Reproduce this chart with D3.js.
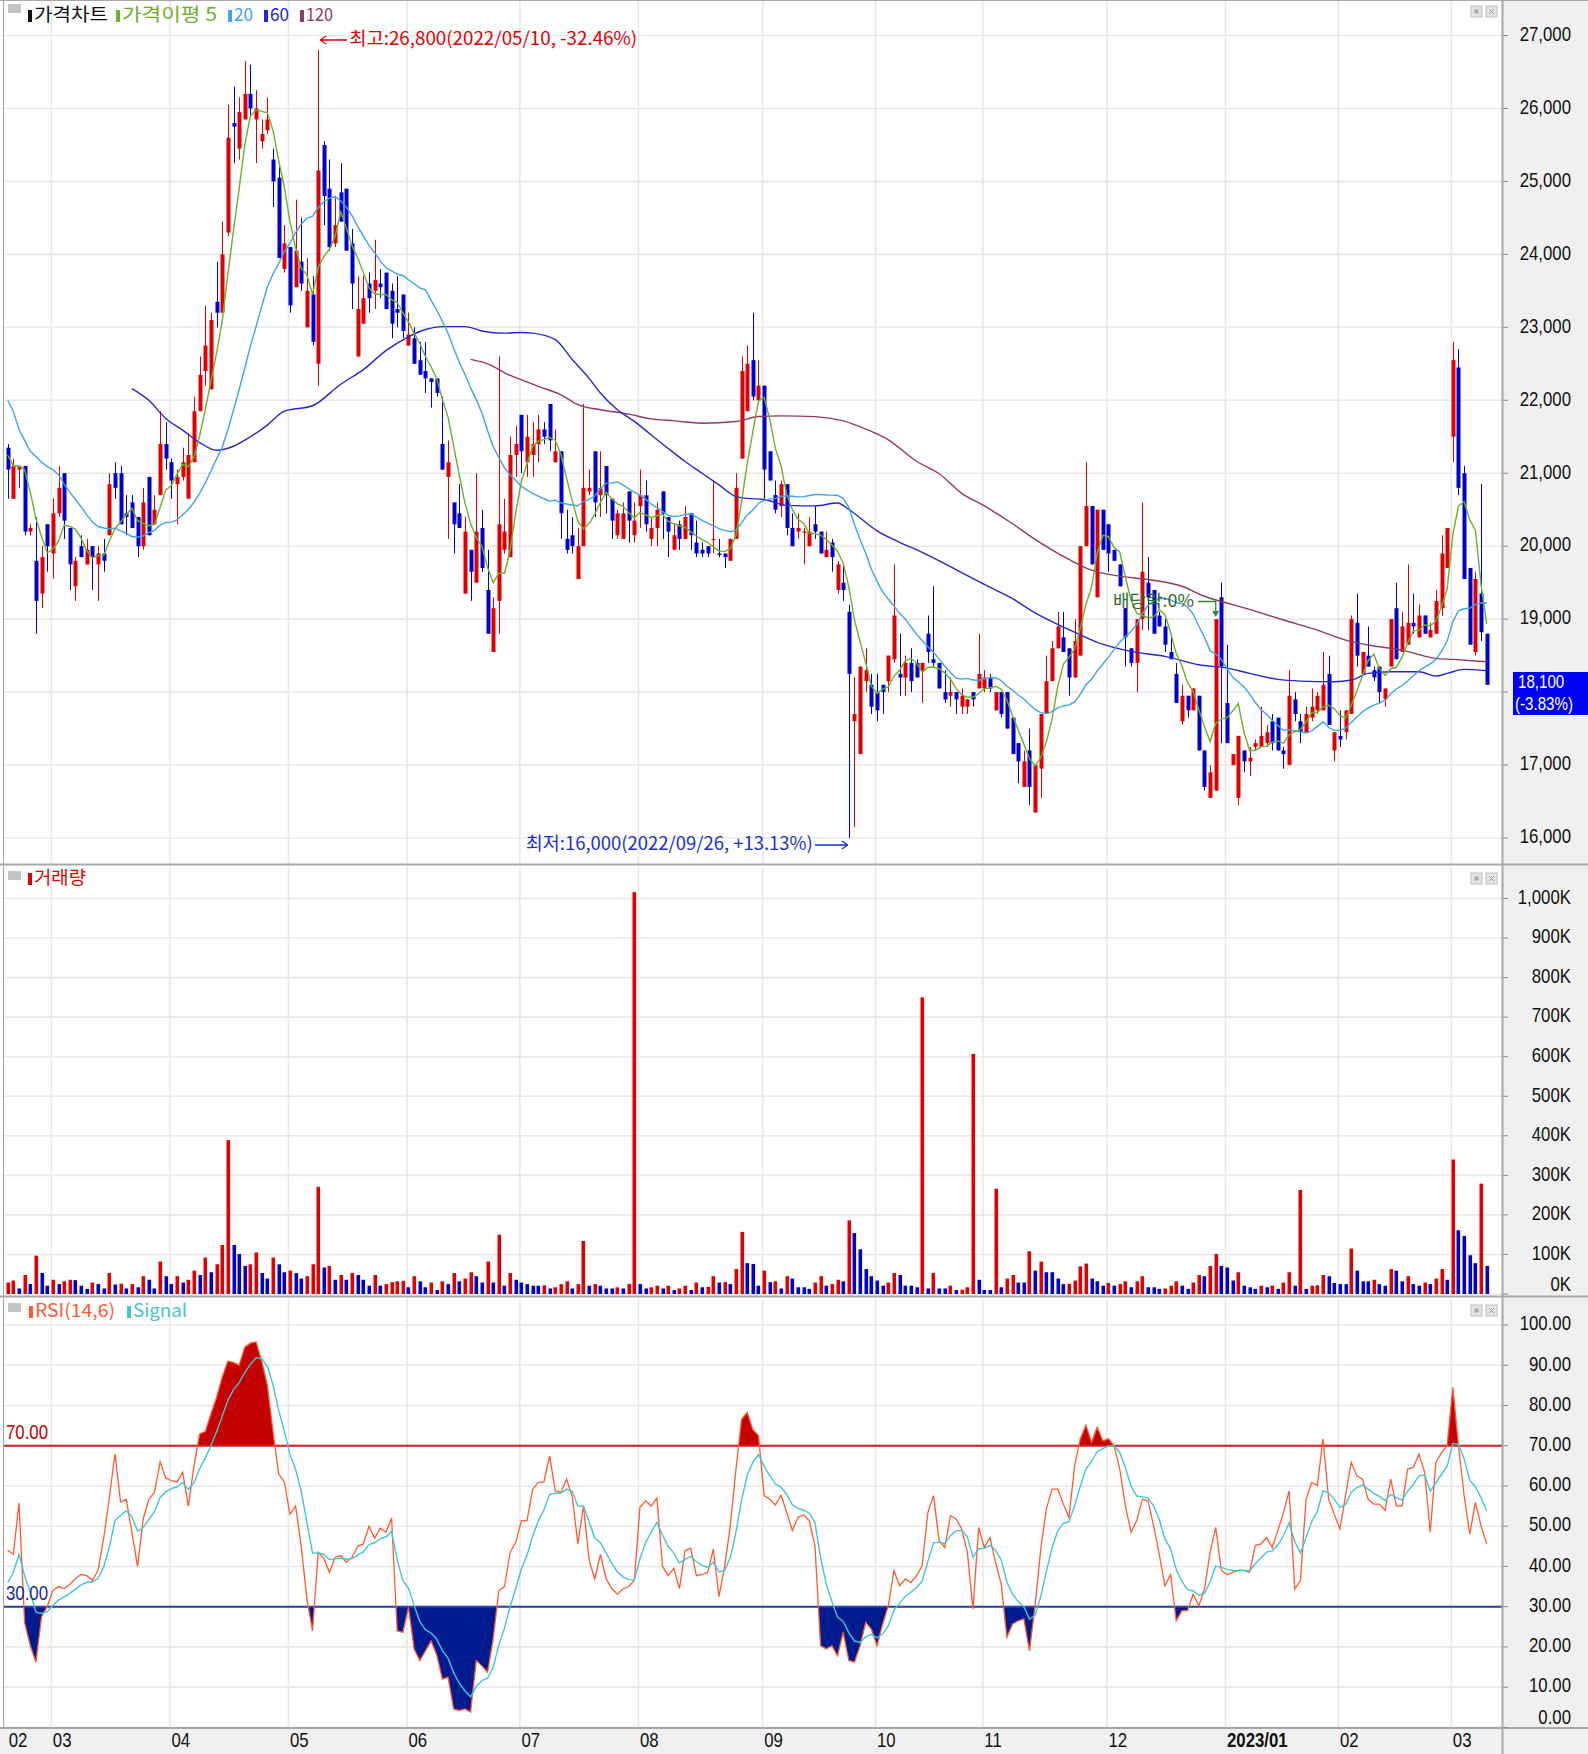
<!DOCTYPE html>
<html><head><meta charset="utf-8">
<script src="https://cdn.jsdelivr.net/npm/d3@7"></script>
<style>html,body{margin:0;padding:0;background:#fff;}svg{display:block;}</style>
</head><body>
<svg id="chart" width="1588" height="1754"></svg>
<script>
// ---------------- DATA ----------------
const holidays = ["2022-03-01","2022-03-09","2022-05-05","2022-06-01","2022-06-06","2022-08-15","2022-09-09","2022-09-12","2022-10-03","2022-10-10","2022-12-30","2023-01-23","2023-01-24","2023-03-01"];
const startDate = "2022-02-17", endDate = "2023-03-10";

const opens = [21350,20650,21050,21100,20200,19800,19350,20300,19900,20450,
21000,20250,19450,20000,19750,20000,19750,19900,20150,21000,
21000,20450,20600,20400,20000,20950,20300,20700,21400,21150,
20850,20950,20650,21150,21850,22400,22150,23350,23200,24300,
25800,25450,25850,26200,25850,25550,25700,25300,25050,23800,
24100,23550,23900,23000,23450,22500,25500,24900,24150,24850,
24900,24150,22600,23050,23600,23500,23600,23750,23500,23250,
23450,22750,22850,22550,22400,22300,22300,21400,20950,20600,
20450,19350,19950,19500,20250,19400,18550,19250,19950,19850,
21250,21800,21150,21250,21400,21600,21950,21150,21300,20100,
20150,19550,20000,20750,21300,20700,21100,20650,20150,20100,
20750,20150,20550,20700,20100,20250,20750,20400,19950,20300,
20100,20450,20050,19950,20000,20100,19900,19900,19800,20100,
21200,21850,22550,22000,22200,21300,20700,20550,20850,20250,
20200,20200,20000,20300,20200,19850,20050,19400,19500,19100,
17600,17150,18150,18100,18000,18100,18150,18450,18250,18200,
18400,18400,18300,18800,18450,18400,18000,17950,18000,17800,
17800,18000,18050,18050,18200,17750,18000,18000,17650,17300,
16700,17200,16350,16950,17700,18150,18600,18750,18600,18200,
18500,20000,20550,19300,20500,20300,19950,19750,19150,18600,
18400,19000,19500,19400,19050,18900,18550,18250,17600,17950,
17750,17950,17200,16550,16650,19300,17850,17000,16550,17200,
17050,17250,17250,17300,17600,17650,17200,17000,17900,17600,
17450,17650,17750,17750,18250,17200,17400,17450,17700,18950,
18250,18500,18300,18350,17900,18350,19150,18550,18650,18950,
18750,19050,18750,18800,19150,19700,21500,22450,21000,19700,
18550,19350,18800];
const highs = [21400,21200,21100,21100,20300,20400,20000,20300,20650,21100,
21000,20250,19850,20150,20100,20000,20000,20100,21000,21150,
21100,20700,20700,20400,20800,20950,20700,21850,21700,21200,
21050,21350,21550,22050,22600,23300,23200,23900,24450,26050,
26300,26150,26650,26600,26250,25850,26150,25450,25200,24400,
24100,24750,24500,23950,23700,26800,25550,25300,24800,25250,
24900,24350,23700,23700,23750,24200,23800,23750,23600,23700,
23450,23200,23000,22800,22800,22300,22300,22050,21450,20600,
20850,20400,19950,21000,20500,19950,19300,22600,20650,21500,
21650,21800,21800,21700,21800,21700,21950,21600,21300,20500,
20400,20250,21950,21050,21300,21300,21100,20650,20500,20600,
20750,20600,21050,20900,20400,20600,20750,20400,20300,20350,
20550,20450,20350,20050,20000,20900,20100,19900,20100,21000,
22600,22750,23200,22550,22200,21300,20900,20900,20850,20450,
20450,20250,20400,20550,20200,20200,20100,19800,19750,19200,
18200,18350,18600,18250,18250,18100,18500,19750,18800,18500,
18600,18450,18400,19050,19450,18400,18300,18200,18000,18050,
17900,18000,18800,18300,18250,18000,18000,18000,17650,17300,
17200,17500,17000,17700,18500,18700,19100,19100,18600,19000,
20000,21150,20550,20500,20500,20300,19950,19750,19150,18600,
19000,20600,19850,19400,19100,19000,18750,18400,18100,17950,
18050,17950,17200,17000,19000,19500,18650,17150,17400,17200,
17250,17350,17800,17550,17700,17650,17250,18300,18000,17700,
17800,18050,18000,18550,18500,17450,17750,17750,19050,19350,
18550,18900,18350,18350,18050,19000,19500,19100,19750,19350,
19200,19050,18950,19400,20150,20250,22800,22700,21100,19700,
19650,20850,18800];
const lows = [20650,20650,20800,20150,20150,18800,19150,19650,19550,20400,
20100,19400,19250,19850,19750,19400,19250,19650,20150,20650,
20300,20150,20250,19850,19950,20150,20300,20700,21050,20650,
20300,20900,20650,21150,21850,22200,22150,23000,23200,24250,
25250,25300,25850,25900,25250,25450,25650,24650,23950,23750,
23200,23550,23500,23000,22750,22200,24400,24050,24100,24450,
24050,23250,22600,23050,23200,23250,23400,23250,22850,23000,
22850,22750,22500,22350,22100,21900,22050,21050,20100,19900,
20250,19350,19250,19500,19650,18800,18550,18800,19900,19850,
20950,21000,20950,20950,21150,21400,21300,21150,20100,19900,
19900,19550,20000,20700,20400,20400,20450,20100,20100,20100,
20050,20050,20250,20200,20000,20000,20100,19850,19950,19950,
20100,19950,19850,19850,19850,19900,19850,19700,19800,20100,
21200,21850,22000,22000,20650,20900,20450,20400,20150,20000,
20100,19750,20000,20100,19900,19850,19650,19350,19250,16000,
16150,17150,18000,17700,17600,17700,18000,18400,17950,17950,
18000,18200,17850,18400,18350,18050,17850,17800,17700,17700,
17700,17800,18050,18000,18000,17750,17650,17500,17150,16750,
16700,16450,16350,16550,17700,18150,18600,18550,17950,18200,
18500,20000,19750,19300,19950,19650,19800,19450,18350,18350,
18000,18850,18850,18800,18900,18550,18450,17850,17550,17650,
17750,17200,16650,16550,16650,17300,17300,17000,16450,16900,
16850,17200,17250,17250,17200,17200,16950,17000,17600,17300,
17450,17600,17700,17750,17550,17050,17250,17350,17700,18350,
18250,18350,18150,17850,17800,18350,18450,18550,18650,18800,
18750,18800,18750,18800,19050,19700,21150,20700,19550,18650,
18500,18700,18100];
const closes = [21050,21100,21100,20200,20250,19250,19850,20000,20450,20800,
20350,19750,19800,19850,19950,19850,19900,19800,20850,20800,
20300,20400,20250,20000,20600,20150,20500,21400,21200,20900,
20950,21150,21250,21850,22350,22750,23100,23200,24000,25600,
25750,25950,26200,26000,26000,25650,25850,25000,23950,24150,
23300,24050,23600,23500,22800,25150,24800,24100,24400,24450,
24050,23600,23250,23400,23400,23650,23550,23250,23050,23200,
22950,22900,22500,22350,22300,22250,22100,21050,21150,20300,
20250,20200,19650,20200,19700,18800,19150,20300,20200,21250,
21400,21300,21500,21400,21600,21500,21450,21300,20450,19950,
20000,20000,20800,20800,20600,20800,20700,20350,20450,20450,
20350,20350,20700,20300,20250,20500,20450,20200,20150,20100,
20400,20150,19900,19900,19900,20100,19880,19850,20100,20800,
22400,22500,22050,22200,21050,20900,20500,20850,20250,20000,
20250,20200,20200,20200,19900,19950,19850,19750,19400,18250,
17700,18350,18300,17800,17750,18000,18500,19050,18200,18400,
18150,18200,18400,18550,18400,18050,17900,18000,17900,17950,
17900,17900,18250,18200,18050,18000,17700,17500,17150,17050,
17050,16700,17000,17700,18150,18600,18900,18550,18200,18700,
20000,20550,19750,20500,19950,19900,19800,19450,18750,18400,
19000,19650,19300,18800,18900,18650,18450,17850,17950,17750,
18050,17200,16700,16900,19000,18350,17300,17150,17400,17050,
17100,17300,17400,17450,17300,17200,17150,17950,17700,17450,
17700,17800,17950,18100,17550,17450,17350,17750,19000,18500,
18550,18350,18200,18000,18050,19000,18450,18900,18950,18900,
19050,18800,18850,19250,19900,20250,22550,20800,19550,18650,
19550,18820,18100];
// volume in thousands of shares
const volumes = [29,34,14,48,25,97,53,21,36,25,
32,36,35,21,13,29,25,14,53,24,
26,14,25,17,45,36,14,82,45,25,
45,29,36,59,48,92,55,75,124,389,
124,101,71,75,105,53,39,92,75,55,
59,53,39,45,75,271,67,71,36,48,
36,53,48,36,21,48,21,25,30,32,
33,17,45,32,17,29,10,32,25,53,
32,39,55,45,29,82,29,150,21,53,
36,29,25,21,21,22,14,17,25,32,
14,25,134,21,25,21,14,14,17,14,
25,1016,25,14,17,21,14,21,10,14,
21,10,29,17,18,45,29,30,25,63,
157,78,76,21,59,30,32,14,45,39,
17,17,13,29,45,21,25,36,32,186,
154,113,63,45,34,21,29,53,48,21,
21,17,750,14,53,14,14,21,10,11,
17,607,36,10,10,266,17,39,48,29,
29,108,59,82,55,55,39,25,26,34,
70,77,39,32,21,28,21,25,32,17,
32,45,17,17,13,14,21,32,21,13,
29,48,45,71,101,71,67,34,55,21,
17,13,21,17,21,13,29,55,21,263,
13,21,22,48,45,28,25,25,115,59,
32,32,36,25,21,63,59,32,45,25,
21,29,25,39,63,36,340,161,147,98,
78,279,71];
const rsi = [44,43,55.8,26,20.3,16.2,27.5,30,34,35,
34.5,35.5,37,38,37.7,36.5,39,47,57,68,
56,56.7,48.5,40,51.8,56.7,58.4,66,62,61.3,
61,63.4,55,65,72.9,73.5,77.9,82,87,91,
90.7,90,94.5,95.5,95.8,91,85,73.5,63,61,
53,55,45,32,24,43.5,42,38.5,42.3,42.7,
41,42.3,45,45.6,50,47,49.5,48.5,52,24,
23.6,29.8,19.5,16.6,19,21.5,18,12,12.5,4.6,
4.2,4.6,3.8,16.6,15.3,13.7,22,34,35,43.5,
46,51.4,51.4,59.2,60.9,61,67.5,58.8,58.4,61.7,
57.5,45.6,55,41.5,36.9,43,37,34.5,33.1,34.4,
35,36.5,54.7,56.3,55,57,40,37.7,39.5,34.5,
44,44.5,37.7,38,38.5,44.3,32.5,40,50,64,
76.5,78.3,74,72.5,57.6,56.7,55.3,57.7,53.4,48.9,
52.2,52.8,51.4,45.2,20.3,19.5,20.3,17.8,23.6,16.6,
16.2,20.3,26.1,24.4,20.3,25.7,30.2,39,35.2,36.9,
36,37.7,40.2,53.4,57.6,46.4,44.7,52.6,51.8,49.3,
43.5,29.4,49.7,44.7,47.2,41,35.6,22.4,25.7,26.5,
27,19,30.2,44.3,54.3,59.2,59.2,55.5,52.2,65,
71.7,75.1,70.8,74.6,71.2,71.7,70,64.2,55,48.5,
51.4,56.7,56.3,50.1,43,35.2,38,26.5,29,29,
33.1,30.2,34.4,43.5,49.7,39,38,38.5,39,39,
38.5,45.2,45.6,47.2,44.7,48.9,53.4,58.8,34.4,36.5,
56.7,60.9,60.1,71.7,56.7,53,49.3,57.6,65.9,62.5,
61.7,56.7,55.5,55.5,53.9,61.7,55,55,64.2,64.6,
67.9,63.4,48.5,65.9,68.3,70,84.5,70,57.6,48,
55.9,50.1,45.6];
// values of indicator lines before enough history is shown
const ma5Head = [21250,21100,21100,21050];
const ma20Head = [22000,21850,21600,21450,21300,21230,21150,21090,21050,20980,20850,20740,20640,20540,20430,20330,20270,20250,20240];
const signalHead = [36,38.5,43,37.7,33.6];
// 60 / 120 day averages (bar index, price)
const ma60Idx = [22,25,28,31,34,37,40,43,46,49,54,59,63,67,71,74,77,81,84,88,91,93,97,100,103,105,108,111,114,117,120,123,126,129,131,134,138,143,147,149,154,158,162,167,173,178,182,188,193,199,205,211,216,220,225,229,235,238,241,245,250,253,255,258,262];
const ma60Val = [22160,22000,21750,21590,21420,21315,21370,21500,21660,21850,21925,22220,22420,22680,22870,22970,23010,23010,22950,22920,22930,22920,22830,22560,22300,22100,21870,21710,21525,21340,21160,21000,20840,20680,20655,20640,20560,20552,20592,20503,20210,20053,19916,19720,19476,19280,19085,18856,18682,18558,18489,18375,18329,18256,18174,18151,18142,18165,18256,18279,18279,18220,18256,18311,18293];
const ma120Idx = [82,85,89,91,94,98,101,105,110,114,118,123,129,133,137,143,148,152,156,161,165,169,173,178,182,188,192,197,202,208,212,217,222,226,232,237,241,247,253,256,262];
const ma120Val = [22560,22500,22340,22280,22190,22075,21940,21870,21810,21745,21718,21686,21709,21777,21786,21776,21717,21605,21458,21164,20993,20724,20552,20308,20093,19818,19671,19589,19543,19451,19314,19199,19085,18988,18850,18713,18645,18576,18462,18448,18416];
const priceTicks = d3.range(16000, 27001, 1000);
const volumeTicks = d3.range(0, 1001, 100);
const rsiTicks = d3.range(0, 101, 10);

// ---------------- DATES ----------------
const fmt = d3.timeFormat("%Y-%m-%d");
const hol = new Set(holidays);
const dates = [];
for (let d = new Date(2022,1,17); fmt(d) <= endDate; d.setDate(d.getDate()+1)) {
  const wd = d.getDay(); const s = fmt(d);
  if (wd===0 || wd===6 || hol.has(s)) continue;
  dates.push(s);
}
const N = closes.length;
const idx = d3.range(N);

// ---------------- DERIVED LINES ----------------
const ma5 = idx.map(i => i < ma5Head.length ? ma5Head[i] : d3.mean(closes.slice(i-4, i+1)));
const ma20 = idx.map(i => i < ma20Head.length ? ma20Head[i] : d3.mean(closes.slice(i-19, i+1)));
const signal = [];
idx.forEach(i => { signal[i] = i < signalHead.length ? signalHead[i] : signal[i-1] + (rsi[i]-signal[i-1])*2/7; });

// ---------------- LAYOUT ----------------
const svg = d3.select("#chart");
const W = 1588, H = 1754, L = 4, R = 1502;
const P = {top:1, bot:863}, V = {top:867, bot:1295}, S = {top:1299, bot:1728};
const SANS = "'Liberation Sans','Arimo',Arial,sans-serif";
const KR = "'Noto Sans CJK KR','Liberation Sans',sans-serif";
const SX = 0.84; // horizontal squeeze for the narrow axis font
const UP = "#e10000", DN = "#0000cc";

const x = d3.scalePoint().domain(dates.slice(0,N)).range([7.7, 1486.7]);
const xi = i => x(dates[i]);
const yP = d3.scaleLinear().domain([16000,27000]).range([838,35.5]);
const yV = d3.scaleLinear().domain([0,1000]).range([1294,898.5]);
const yR = d3.scaleLinear().domain([0,100]).range([1727.4,1325]);

// narrow text helper (condensed look of the terminal font)
function ntext(g, xx, yy, str, opt){
  opt = opt || {};
  return g.append("text")
    .attr("transform", `translate(${xx},${yy}) scale(${SX},1)`)
    .attr("text-anchor", opt.anchor || "start").attr("dominant-baseline","middle")
    .attr("font-family", SANS).attr("font-size", opt.size || 20)
    .attr("font-weight", opt.weight || "normal")
    .attr("fill", opt.fill || "#111").text(str);
}

// backgrounds
svg.append("rect").attr("x",0).attr("y",0).attr("width",W).attr("height",H).attr("fill","#fff");
svg.append("rect").attr("x",R).attr("y",0).attr("width",W-R).attr("height",H).attr("fill","#f0f0f0");
svg.append("rect").attr("x",0).attr("y",S.bot).attr("width",W).attr("height",H-S.bot).attr("fill","#f0f0f0");

const defs = svg.append("defs");
function clip(id, top, bot){ defs.append("clipPath").attr("id",id).append("rect").attr("x",L).attr("y",top).attr("width",R-L).attr("height",bot-top); }
clip("cP",P.top,P.bot); clip("cV",V.top,V.bot); clip("cS",S.top,S.bot);
defs.append("clipPath").attr("id","cHi").append("rect").attr("x",L).attr("y",S.top).attr("width",R-L).attr("height",yR(70)-S.top);
defs.append("clipPath").attr("id","cLo").append("rect").attr("x",L).attr("y",yR(30)).attr("width",R-L).attr("height",S.bot-yR(30));

// month ticks
const monthTicks = [];
dates.slice(0,N).forEach((d,i) => { const m = d.slice(0,7); if (i===0 || m!==dates[i-1].slice(0,7)) monthTicks.push({i, m}); });

// grid
const grid = svg.append("g").attr("stroke","#e8e8e8").attr("stroke-width",1.6);
[[P,yP,priceTicks],[V,yV,volumeTicks],[S,yR,rsiTicks]].forEach(([pn,sc,tk]) => {
  tk.forEach(t => { const y = sc(t); if (y>pn.top && y<pn.bot) grid.append("line").attr("x1",L).attr("x2",R).attr("y1",y).attr("y2",y); });
  monthTicks.filter(t=>t.i>0).forEach(t => grid.append("line").attr("x1",xi(t.i)-1.5).attr("x2",xi(t.i)-1.5).attr("y1",pn.top).attr("y2",pn.bot));
});

// ---------------- PRICE PANEL ----------------
const gp = svg.append("g").attr("clip-path","url(#cP)");
const colC = i => closes[i] >= opens[i] ? UP : DN;
gp.selectAll("line.w").data(idx).join("line").attr("class","w")
  .attr("x1",i=>Math.round(xi(i))+0.5).attr("x2",i=>Math.round(xi(i))+0.5)
  .attr("y1",i=>yP(highs[i])).attr("y2",i=>yP(lows[i])).attr("stroke",colC).attr("stroke-width",1);
gp.selectAll("rect.b").data(idx).join("rect").attr("class","b")
  .attr("x",i=>Math.round(xi(i))-1.5).attr("width",4)
  .attr("y",i=>yP(Math.max(opens[i],closes[i])))
  .attr("height",i=>Math.max(1.2, Math.abs(yP(opens[i])-yP(closes[i]))))
  .attr("fill",colC);

function drawLine(g, xs, ys, yScale, color, w, curve){
  const ln = d3.line().x(d=>xi(d[0])).y(d=>yScale(d[1]));
  if (curve) ln.curve(curve);
  g.append("path").datum(xs.map((v,k)=>[v,ys[k]])).attr("d",ln).attr("fill","none").attr("stroke",color).attr("stroke-width",w);
}
drawLine(gp, ma120Idx, ma120Val, yP, "#8e3a66", 1.4, d3.curveMonotoneX);
drawLine(gp, ma60Idx, ma60Val, yP, "#2626cf", 1.4, d3.curveMonotoneX);
drawLine(gp, idx, ma20, yP, "#3fa3e8", 1.4);
drawLine(gp, idx, ma5, yP, "#6cb12e", 1.4);

// annotations
const iMax = d3.maxIndex(highs), iMin = d3.minIndex(lows);
const last = closes[N-1];
const pctMax = ((last - highs[iMax]) / highs[iMax] * 100).toFixed(2);
const pctMin = ((last - lows[iMin]) / lows[iMin] * 100).toFixed(2);
const fmtN = d3.format(",");
const dSlash = s => s.replace(/-/g,"/");
const ann = svg.append("g");
const axMax = xi(iMax)+1, ayMax = 40;
ann.append("path").attr("d",`M${axMax+1},${ayMax}H${axMax+28}M${axMax+1},${ayMax}l6,-4M${axMax+1},${ayMax}l6,4`).attr("stroke","#e00000").attr("stroke-width",1.3).attr("fill","none");
ann.append("text").attr("x",axMax+30).attr("y",ayMax).attr("dominant-baseline","middle")
  .attr("font-family",KR).attr("font-size",18).attr("fill","#e00000")
  .attr("textLength",288).attr("lengthAdjust","spacingAndGlyphs")
  .text(`최고:${fmtN(highs[iMax])}(${dSlash(dates[iMax])}, ${pctMax}%)`);
const axMin = xi(iMin), ayMin = 845;
ann.append("text").attr("x",axMin-323).attr("y",ayMin).attr("dominant-baseline","middle")
  .attr("font-family",KR).attr("font-size",18).attr("fill","#1a30c8")
  .attr("textLength",287).attr("lengthAdjust","spacingAndGlyphs")
  .text(`최저:${fmtN(lows[iMin])}(${dSlash(dates[iMin])}, +${pctMin}%)`);
ann.append("path").attr("d",`M${axMin-34},${ayMin}H${axMin-1}M${axMin-1},${ayMin}l-6,-4M${axMin-1},${ayMin}l-6,4`).attr("stroke","#1a30c8").attr("stroke-width",1.3).attr("fill","none");
// ex-dividend marker
const iDiv = 214;
ann.append("text").attr("x",1113).attr("y",602).attr("dominant-baseline","middle")
  .attr("font-family",KR).attr("font-size",17).attr("fill","#2c6a2c")
  .attr("textLength",81).attr("lengthAdjust","spacingAndGlyphs").text("배당락:0%");
ann.append("path").attr("d",`M1198,601.5H${xi(iDiv)}V612`).attr("stroke","#2f8a2f").attr("stroke-width",1.3).attr("fill","none");
ann.append("path").attr("d",`M${xi(iDiv)-3.5},611L${xi(iDiv)+3.5},611L${xi(iDiv)},617Z`).attr("fill","#2f8a2f");

// ---------------- VOLUME PANEL ----------------
const gv = svg.append("g").attr("clip-path","url(#cV)");
gv.selectAll("rect").data(idx).join("rect")
  .attr("x",i=>Math.round(xi(i))-1.5).attr("width",3.6)
  .attr("y",i=>yV(volumes[i])).attr("height",i=>yV(0)-yV(volumes[i]))
  .attr("fill",i=> (i===0 || volumes[i] > volumes[i-1]) ? UP : DN);

// ---------------- RSI PANEL ----------------
const gs = svg.append("g").attr("clip-path","url(#cS)");
const areaHi = d3.area().x(i=>xi(i)).y0(yR(70)).y1(i=>yR(rsi[i]));
const areaLo = d3.area().x(i=>xi(i)).y0(yR(30)).y1(i=>yR(rsi[i]));
gs.append("path").datum(idx).attr("d",areaHi).attr("fill","#c40000").attr("clip-path","url(#cHi)");
gs.append("path").datum(idx).attr("d",areaLo).attr("fill","#001a90").attr("clip-path","url(#cLo)");
gs.append("line").attr("x1",L).attr("x2",R).attr("y1",yR(70)).attr("y2",yR(70)).attr("stroke","#d21e1e").attr("stroke-width",2);
gs.append("line").attr("x1",L).attr("x2",R).attr("y1",yR(30)).attr("y2",yR(30)).attr("stroke","#2a3ca8").attr("stroke-width",2);
drawLine(gs, idx, rsi, yR, "#ff5a30", 1.3);
drawLine(gs, idx, signal, yR, "#45c4d4", 1.4);
ntext(svg, 6, yR(70)-12, "70.00", {fill:"#c00000"});
ntext(svg, 6, yR(30)-12, "30.00", {fill:"#1a2a9a"});

// ---------------- FRAMES ----------------
const fr = svg.append("g").attr("stroke","#a8a8a8").attr("fill","none");
fr.append("line").attr("x1",3.5).attr("x2",3.5).attr("y1",0).attr("y2",S.bot);
fr.append("line").attr("x1",0).attr("x2",W).attr("y1",0.5).attr("y2",0.5);
fr.append("line").attr("x1",R+0.5).attr("x2",R+0.5).attr("y1",0).attr("y2",H).attr("stroke-width",2);
[P.bot+1.5, V.bot+1.5, S.bot].forEach(y => fr.append("line").attr("x1",0).attr("x2",W).attr("y1",y).attr("y2",y).attr("stroke-width",2));

// ---------------- AXES (right) ----------------
const tag = {top:672, bot:715};
const axG = svg.append("g");
function rightAxis(ticks, sc, fmtF, pn, skipTag){
  ticks.forEach(t => {
    const y = sc(t);
    axG.append("line").attr("x1",R+1).attr("x2",R+6).attr("y1",y).attr("y2",y).attr("stroke","#888");
    // a label hidden under the current-price tag is not shown
    if (skipTag && y > tag.top - 10 && y < tag.bot + 10) return;
    const ty = Math.min(Math.max(y, pn.top+10), pn.bot-9);
    ntext(axG, 1571, ty, fmtF(t), {anchor:"end"});
  });
}
rightAxis(priceTicks, yP, d3.format(","), P, true);
rightAxis(volumeTicks, yV, t => d3.format(",")(t)+"K", V, false);
rightAxis(rsiTicks, yR, d3.format(".2f"), S, false);

// current price tag
const chg = ((closes[N-1]-closes[N-2])/closes[N-2]*100).toFixed(2);
svg.append("rect").attr("x",1513).attr("y",tag.top).attr("width",75).attr("height",tag.bot-tag.top).attr("fill","#0000f0");
ntext(svg, 1518, 683, fmtN(closes[N-1]), {fill:"#fff", size:18});
ntext(svg, 1515, 705, `(${chg}%)`, {fill:"#fff", size:18});

// ---------------- BOTTOM AXIS ----------------
monthTicks.forEach(t => {
  const lab = t.m === "2023-01" ? "2023/01" : t.m.slice(5);
  ntext(svg, t.i===0 ? xi(0)+1 : xi(t.i), 1742, lab, {weight: lab.length>2 ? "bold" : "normal"});
});

// ---------------- LEGENDS ----------------
function panelIcons(y0){
  svg.append("rect").attr("x",8).attr("y",y0+4).attr("width",13).attr("height",9).attr("fill","#c4c4c4");
  [1471,1486].forEach((xx,k) => {
    svg.append("rect").attr("x",xx).attr("y",y0+6).attr("width",11).attr("height",11).attr("fill","#e4e4e4").attr("stroke","#c0c0c0");
    if (k===0) svg.append("rect").attr("x",xx+3.5).attr("y",y0+9.5).attr("width",4).attr("height",4).attr("fill","#aaa");
    else svg.append("path").attr("d",`M${xx+3},${y0+9}l5,5M${xx+8},${y0+9}l-5,5`).attr("stroke","#999");
  });
}
panelIcons(0); panelIcons(V.top); panelIcons(S.top);
function legendItem(xm, yc, color, label, tl, tcolor){
  svg.append("rect").attr("x",xm).attr("y",yc-6).attr("width",4).attr("height",12).attr("fill",color);
  svg.append("text").attr("x",xm+6).attr("y",yc).attr("dominant-baseline","middle").attr("font-family",KR).attr("font-size",18)
    .attr("fill",tcolor||color).attr("textLength",tl).attr("lengthAdjust","spacingAndGlyphs").text(label);
}
legendItem(28,16,"#111","가격차트",74);
legendItem(116,16,"#6cb12e","가격이평 5",95);
legendItem(228,16,"#3fa3e8","20",19);
legendItem(264,16,"#2626cf","60",19);
legendItem(300,16,"#8e3a66","120",27);
legendItem(28,879,"#e00000","거래량",52);
legendItem(29,1312,"#ff5a30","RSI(14,6)",80);
legendItem(127,1312,"#45c4d4","Signal",54);
</script>
</body></html>
